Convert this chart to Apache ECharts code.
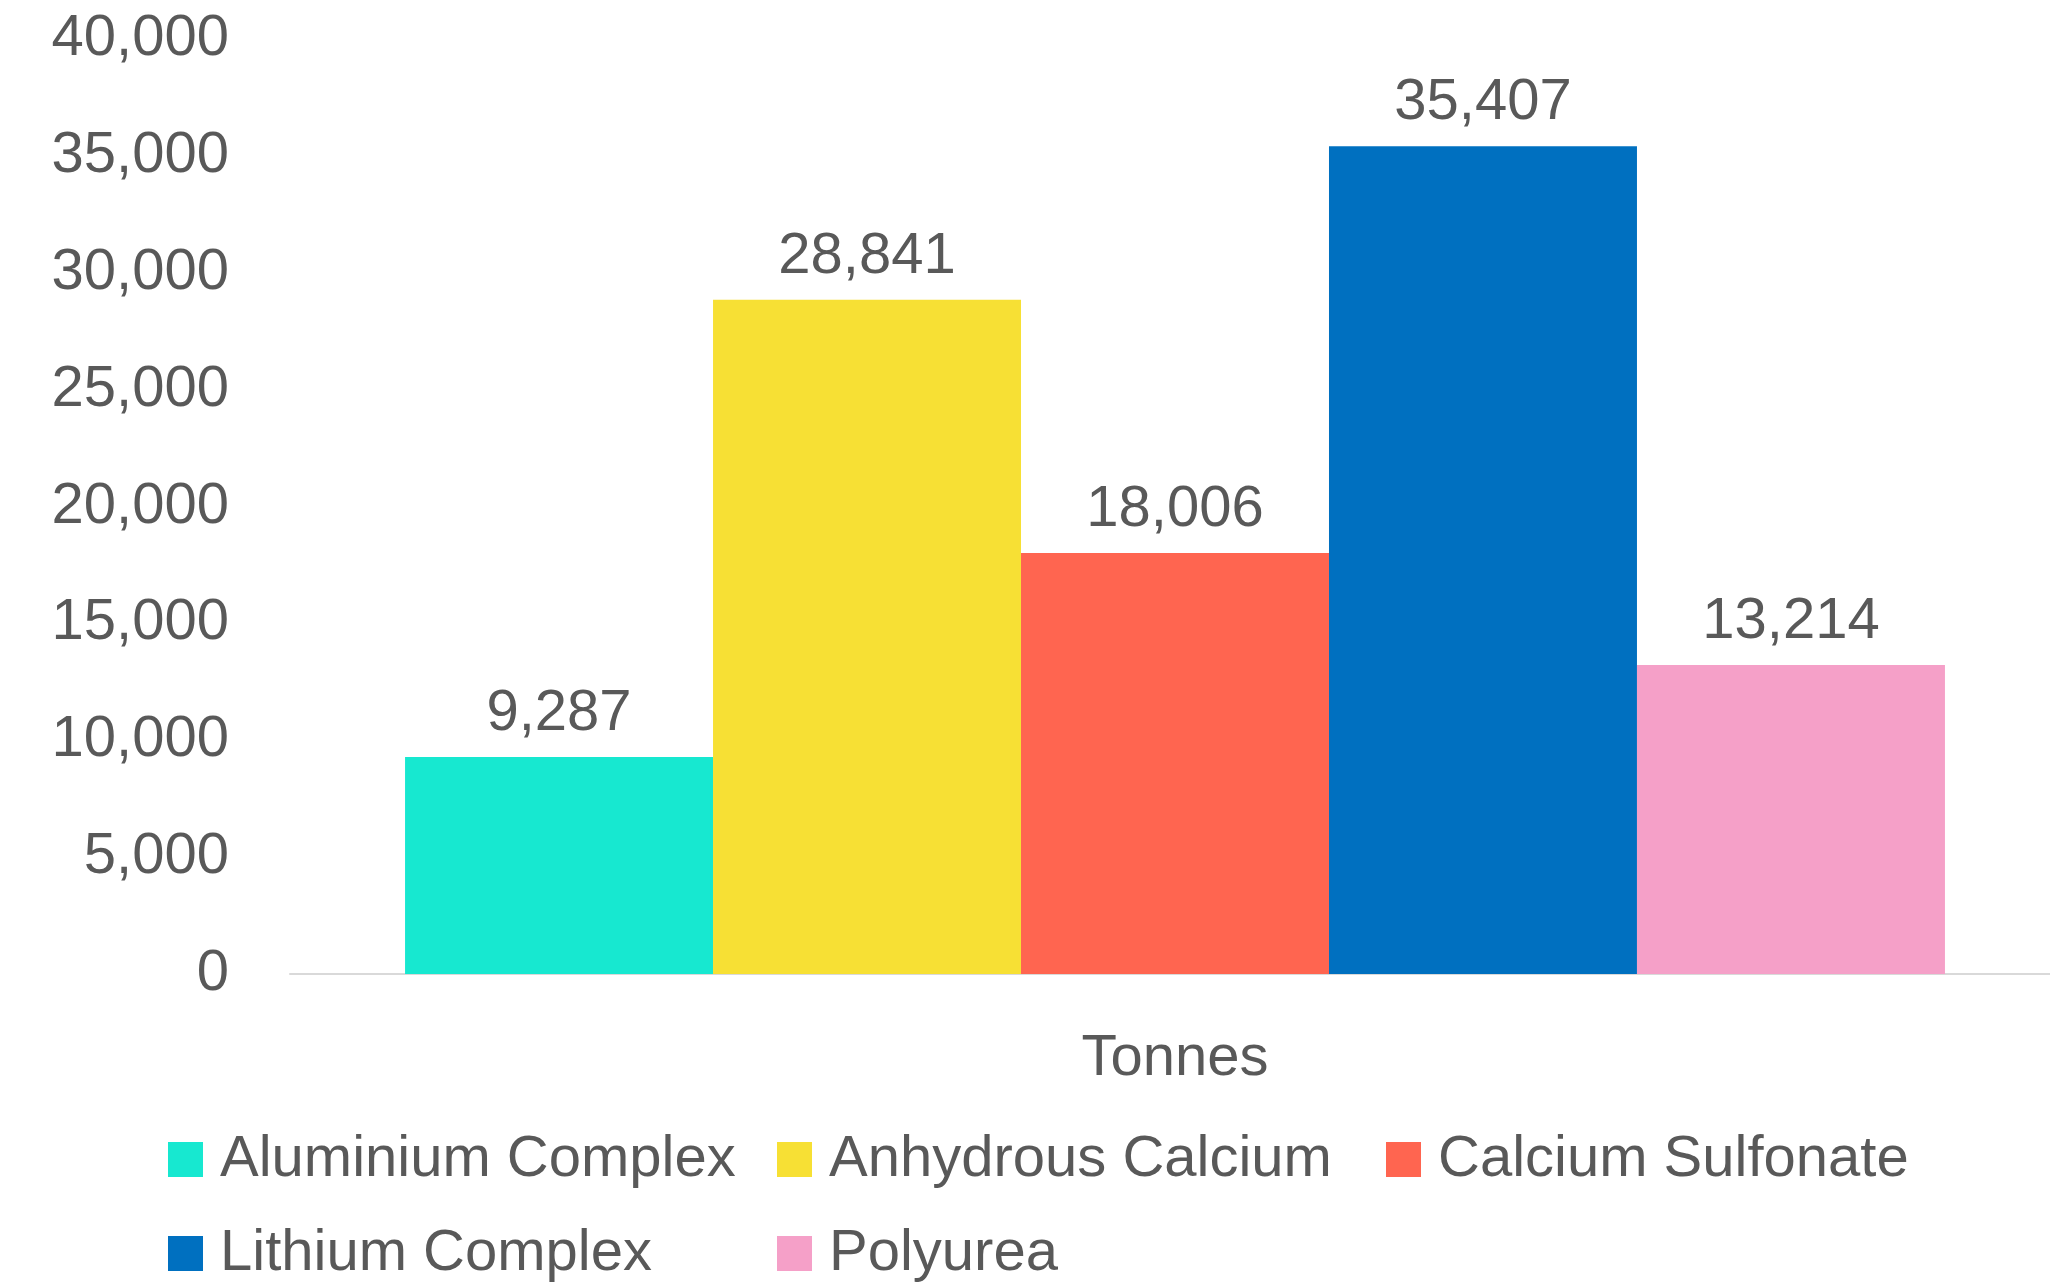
<!DOCTYPE html>
<html>
<head>
<meta charset="utf-8">
<script src="https://cdn.jsdelivr.net/npm/echarts@6/dist/echarts.min.js"></script>
<style>
  html, body { margin: 0; padding: 0; background: #ffffff; overflow: hidden; }
  #chart { width: 2060px; height: 1283px; }
</style>
</head>
<body>
<div id="chart"></div>
<script>
// Grease production by thickener type
const categories = ['Tonnes'];
const seriesNames = ['Aluminium Complex', 'Anhydrous Calcium', 'Calcium Sulfonate', 'Lithium Complex', 'Polyurea'];
const seriesValues = [9287, 28841, 18006, 35407, 13214];
const seriesColors = ['#17E8D0', '#F7E034', '#FF6550', '#0070C0', '#F5A0C8'];
const yTicks = { min: 0, max: 40000, interval: 5000 };

const FONT = 'Liberation Sans';
const TEXT = '#595959';

const fmt = v => v.toLocaleString('en-US');

const chart = echarts.init(document.getElementById('chart'));
chart.setOption({
  backgroundColor: '#ffffff',
  animation: false,
  // the axis line runs off the right edge of the page
  grid: { left: 290, right: 0, top: 39, bottom: 309, containLabel: false },
  xAxis: {
    type: 'category',
    data: categories,
    axisLine: { show: true, lineStyle: { color: '#d9d9d9', width: 2 } },
    axisTick: { show: false },
    axisLabel: { color: TEXT, fontFamily: FONT, fontSize: 58, margin: 56 }
  },
  yAxis: {
    type: 'value',
    min: yTicks.min,
    max: yTicks.max,
    interval: yTicks.interval,
    axisLine: { show: false },
    axisTick: { show: false },
    splitLine: { show: false },
    axisLabel: {
      color: TEXT, fontFamily: FONT, fontSize: 58, margin: 61,
      padding: [8, 0, 0, 0], formatter: fmt
    }
  },
  legend: {
    left: 163,
    top: 1115,
    width: 1830,
    itemWidth: 35,
    itemHeight: 35,
    itemGap: 15,
    icon: 'rect',
    textStyle: {
      color: TEXT, fontFamily: FONT, fontSize: 58,
      width: 542, lineHeight: 79, padding: [0, 0, 0, 12]
    },
    data: seriesNames
  },
  series: seriesNames.map((name, i) => ({
    name,
    type: 'bar',
    barGap: '0%',
    barCategoryGap: '13%',
    itemStyle: { color: seriesColors[i] },
    label: {
      show: true, position: 'top', distance: 14,
      color: TEXT, fontFamily: FONT, fontSize: 58,
      formatter: p => fmt(p.value)
    },
    data: [seriesValues[i]]
  }))
});
</script>
</body>
</html>
